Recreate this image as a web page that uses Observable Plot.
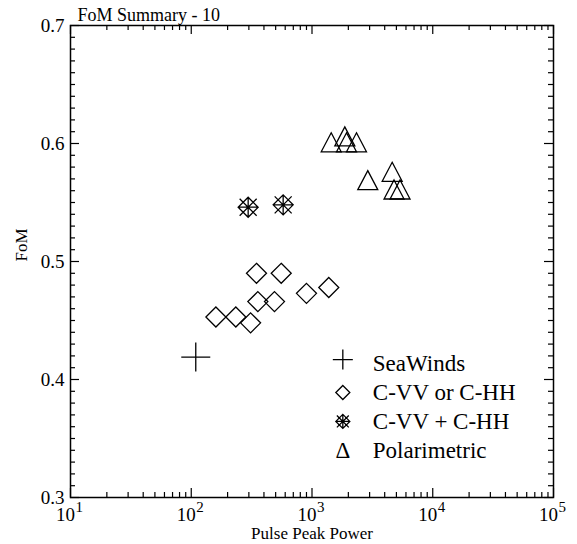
<!DOCTYPE html>
<html>
<head>
<meta charset="utf-8">
<script src="https://cdn.jsdelivr.net/npm/d3@7"></script>
<script src="https://cdn.jsdelivr.net/npm/@observablehq/plot@0.6"></script>
<style>
  html, body { margin: 0; padding: 0; background: #fff; }
  svg { display: block; }
  svg text { font-family: "Liberation Serif", "Times New Roman", serif; }
</style>
</head>
<body>
<div id="chart"></div>
<script>
// Figure-of-merit summary: FoM against pulse peak power for four instrument classes.
const seaWindsPower = [109];
const seaWindsFoM = [0.419];

const singlePolPower = [160, 234, 310, 347, 356, 489, 556, 900, 1377];
const singlePolFoM = [0.453, 0.453, 0.448, 0.490, 0.466, 0.466, 0.490, 0.473, 0.478];

const dualPolPower = [296, 577];
const dualPolFoM = [0.546, 0.548];

const quadPolPower = [1442, 1869, 1931, 2336, 2897, 4613, 4780, 5360];
const quadPolFoM = [0.601, 0.606, 0.601, 0.601, 0.569, 0.576, 0.561, 0.561];

const legendLabels = ["SeaWinds", "C-VV or C-HH", "C-VV + C-HH", "Polarimetric"];
const titleText = "FoM Summary - 10";
const xLabel = "Pulse Peak Power";
const yLabel = "FoM";

const xMajor = [1e1, 1e2, 1e3, 1e4, 1e5];
const xExponents = ["1", "2", "3", "4", "5"];
const yMajor = [0.3, 0.4, 0.5, 0.6, 0.7];

// minor ticks: 2..9 in each decade, every 0.01 in FoM
const xMinor = xMajor.slice(0, -1).flatMap(d => d3.range(2, 10).map(k => k * d));
const yMinor = d3.range(30, 71).filter(v => v % 10 !== 0).map(v => v / 100);

// Hollow marker shapes
const radius = size => Math.sqrt(size / Math.PI);
const plusSym = {draw(c, s) { const r = radius(s); c.moveTo(-r, 0); c.lineTo(r, 0); c.moveTo(0, -r); c.lineTo(0, r); }};
const diamondSym = {draw(c, s) { const r = radius(s); c.moveTo(0, -r); c.lineTo(r, 0); c.lineTo(0, r); c.lineTo(-r, 0); c.closePath(); }};
const starSym = {draw(c, s) {
  const r = radius(s), k = r * 0.85;
  c.moveTo(0, -r); c.lineTo(r, 0); c.lineTo(0, r); c.lineTo(-r, 0); c.closePath();
  c.moveTo(-r, 0); c.lineTo(r, 0); c.moveTo(0, -r); c.lineTo(0, r);
  c.moveTo(-k, -k); c.lineTo(k, k); c.moveTo(-k, k); c.lineTo(k, -k);
}};
const triangleSym = {draw(c, s) { const r = radius(s); c.moveTo(0, -r); c.lineTo(r * 1.05, r); c.lineTo(-r * 1.05, r); c.closePath(); }};

const W = 577, H = 544;
const mL = 70, mR = 24, mT = 25, mB = 47;
const fw = W - mL - mR, fh = H - mT - mB;
const majorLen = 9, minorLen = 5;

const pts = (xs, ys) => xs.map((x, i) => ({x, y: ys[i]}));

// Legend rows, placed in data space near the lower right
const legendX = 1800;
const legendTop = 0.4135, legendStep = 0.0245;
const legendRows = legendLabels.map((label, i) => ({label, i, y: legendTop - i * legendStep}));

const font = "Liberation Serif, Times New Roman, serif";
const txt = {fontFamily: font, fill: "black"};
const dotStyle = {fill: "none", stroke: "black", strokeWidth: 1.3};

const chart = Plot.plot({
  width: W, height: H,
  marginLeft: mL, marginRight: mR, marginTop: mT, marginBottom: mB,
  style: {fontFamily: font, background: "white", color: "black"},
  x: {type: "log", domain: [10, 1e5], axis: null},
  y: {domain: [0.3, 0.7], axis: null},
  marks: [
    // ticks on all four sides, pointing inward
    Plot.tickX(xMajor, {x: d => d, insetTop: fh - majorLen, stroke: "black", strokeWidth: 1.2}),
    Plot.tickX(xMinor, {x: d => d, insetTop: fh - minorLen, stroke: "black", strokeWidth: 1.2}),
    Plot.tickX(xMajor, {x: d => d, insetBottom: fh - majorLen, stroke: "black", strokeWidth: 1.2}),
    Plot.tickX(xMinor, {x: d => d, insetBottom: fh - minorLen, stroke: "black", strokeWidth: 1.2}),
    Plot.tickY(yMajor, {y: d => d, insetRight: fw - majorLen, stroke: "black", strokeWidth: 1.2}),
    Plot.tickY(yMinor, {y: d => d, insetRight: fw - minorLen, stroke: "black", strokeWidth: 1.2}),
    Plot.tickY(yMajor, {y: d => d, insetLeft: fw - majorLen, stroke: "black", strokeWidth: 1.2}),
    Plot.tickY(yMinor, {y: d => d, insetLeft: fw - minorLen, stroke: "black", strokeWidth: 1.2}),
    Plot.frame({stroke: "black", strokeWidth: 1.5}),

    // tick labels
    Plot.text(xMajor, {x: d => d, text: () => "10", frameAnchor: "bottom", lineAnchor: "bottom", dy: 23, dx: -5, fontSize: 19, textAnchor: "middle", ...txt}),
    Plot.text(xMajor, {x: d => d, text: (d, i) => xExponents[i], frameAnchor: "bottom", lineAnchor: "bottom", dy: 14, dx: 5, fontSize: 15, textAnchor: "start", ...txt}),
    Plot.text(yMajor, {y: d => d, text: d => d.toFixed(1), frameAnchor: "left", textAnchor: "end", lineAnchor: "middle", dx: -6, fontSize: 19, ...txt}),

    // titles
    Plot.text([titleText], {text: d => d, frameAnchor: "top-left", textAnchor: "start", lineAnchor: "bottom", dx: 7, dy: -5, fontSize: 18, ...txt}),
    Plot.text([xLabel], {text: d => d, frameAnchor: "bottom", lineAnchor: "bottom", dy: 41, fontSize: 17, ...txt}),
    Plot.text([yLabel], {text: d => d, frameAnchor: "left", rotate: -90, lineAnchor: "middle", dx: -49, fontSize: 17, ...txt}),

    // data
    Plot.dot(pts(seaWindsPower, seaWindsFoM), {x: "x", y: "y", symbol: plusSym, r: 14.5, ...dotStyle}),
    Plot.dot(pts(singlePolPower, singlePolFoM), {x: "x", y: "y", symbol: diamondSym, r: 10, ...dotStyle}),
    Plot.dot(pts(dualPolPower, dualPolFoM), {x: "x", y: "y", symbol: starSym, r: 10, ...dotStyle}),
    Plot.dot(pts(quadPolPower, quadPolFoM), {x: "x", y: "y", symbol: triangleSym, r: 9.5, ...dotStyle}),

    // legend
    Plot.dot(legendRows.filter(d => d.i === 0), {x: () => legendX, y: "y", symbol: plusSym, r: 10, dy: -4, ...dotStyle}),
    Plot.dot(legendRows.filter(d => d.i === 1), {x: () => legendX, y: "y", symbol: diamondSym, r: 7, ...dotStyle}),
    Plot.dot(legendRows.filter(d => d.i === 2), {x: () => legendX, y: "y", symbol: starSym, r: 7, ...dotStyle}),
    Plot.text(legendRows.filter(d => d.i === 3), {x: () => legendX, y: "y", text: () => "Δ", fontSize: 23, lineAnchor: "middle", ...txt}),
    Plot.text(legendRows, {x: () => legendX, y: "y", text: "label", dx: 30, textAnchor: "start", lineAnchor: "middle", fontSize: 23, ...txt})
  ]
});

document.getElementById("chart").append(chart);
</script>
</body>
</html>
